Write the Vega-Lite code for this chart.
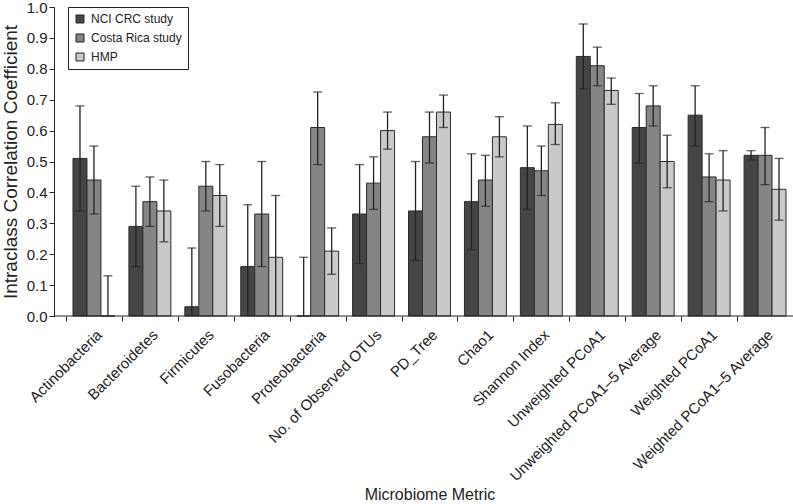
{
  "$schema": "https://vega.github.io/schema/vega-lite/v6.json",
  "width": 739,
  "height": 309,
  "autosize": "none",
  "padding": {"left": 54, "top": 7, "right": 0, "bottom": 188},
  "background": "white",
  "config": {
    "font": "Liberation Sans",
    "view": {"stroke": null},
    "axis": {"grid": false},
    "axisY": {
      "tickCount": 10, "format": ".1f", "tickSize": 5, "labelFontSize": 15, "labelColor": "#222", "labelOverlap": false,
      "domainColor": "#222", "tickColor": "#222",
      "titleFontSize": 19, "titleFontWeight": "normal", "titleColor": "#222",
      "labelPadding": 2, "titlePadding": 6
    }
  },
  "data": {
    "values": [
      {"metric": "Actinobacteria", "study": "NCI CRC study", "value": 0.51, "lo": 0.34, "hi": 0.68},
      {"metric": "Actinobacteria", "study": "Costa Rica study", "value": 0.44, "lo": 0.33, "hi": 0.55},
      {"metric": "Actinobacteria", "study": "HMP", "value": 0.0, "lo": -0.13, "hi": 0.13},
      {"metric": "Bacteroidetes", "study": "NCI CRC study", "value": 0.29, "lo": 0.16, "hi": 0.42},
      {"metric": "Bacteroidetes", "study": "Costa Rica study", "value": 0.37, "lo": 0.29, "hi": 0.45},
      {"metric": "Bacteroidetes", "study": "HMP", "value": 0.34, "lo": 0.24, "hi": 0.44},
      {"metric": "Firmicutes", "study": "NCI CRC study", "value": 0.03, "lo": -0.16, "hi": 0.22},
      {"metric": "Firmicutes", "study": "Costa Rica study", "value": 0.42, "lo": 0.34, "hi": 0.50},
      {"metric": "Firmicutes", "study": "HMP", "value": 0.39, "lo": 0.29, "hi": 0.49},
      {"metric": "Fusobacteria", "study": "NCI CRC study", "value": 0.16, "lo": -0.04, "hi": 0.36},
      {"metric": "Fusobacteria", "study": "Costa Rica study", "value": 0.33, "lo": 0.16, "hi": 0.50},
      {"metric": "Fusobacteria", "study": "HMP", "value": 0.19, "lo": -0.01, "hi": 0.39},
      {"metric": "Proteobacteria", "study": "NCI CRC study", "value": 0.0, "lo": -0.19, "hi": 0.19},
      {"metric": "Proteobacteria", "study": "Costa Rica study", "value": 0.61, "lo": 0.49, "hi": 0.725},
      {"metric": "Proteobacteria", "study": "HMP", "value": 0.21, "lo": 0.135, "hi": 0.285},
      {"metric": "No. of Observed OTUs", "study": "NCI CRC study", "value": 0.33, "lo": 0.17, "hi": 0.49},
      {"metric": "No. of Observed OTUs", "study": "Costa Rica study", "value": 0.43, "lo": 0.345, "hi": 0.515},
      {"metric": "No. of Observed OTUs", "study": "HMP", "value": 0.60, "lo": 0.54, "hi": 0.66},
      {"metric": "PD_Tree", "study": "NCI CRC study", "value": 0.34, "lo": 0.18, "hi": 0.50},
      {"metric": "PD_Tree", "study": "Costa Rica study", "value": 0.58, "lo": 0.495, "hi": 0.66},
      {"metric": "PD_Tree", "study": "HMP", "value": 0.66, "lo": 0.61, "hi": 0.715},
      {"metric": "Chao1", "study": "NCI CRC study", "value": 0.37, "lo": 0.215, "hi": 0.525},
      {"metric": "Chao1", "study": "Costa Rica study", "value": 0.44, "lo": 0.355, "hi": 0.52},
      {"metric": "Chao1", "study": "HMP", "value": 0.58, "lo": 0.515, "hi": 0.645},
      {"metric": "Shannon Index", "study": "NCI CRC study", "value": 0.48, "lo": 0.345, "hi": 0.615},
      {"metric": "Shannon Index", "study": "Costa Rica study", "value": 0.47, "lo": 0.39, "hi": 0.55},
      {"metric": "Shannon Index", "study": "HMP", "value": 0.62, "lo": 0.555, "hi": 0.69},
      {"metric": "Unweighted PCoA1", "study": "NCI CRC study", "value": 0.84, "lo": 0.735, "hi": 0.945},
      {"metric": "Unweighted PCoA1", "study": "Costa Rica study", "value": 0.81, "lo": 0.745, "hi": 0.87},
      {"metric": "Unweighted PCoA1", "study": "HMP", "value": 0.73, "lo": 0.685, "hi": 0.77},
      {"metric": "Unweighted PCoA1–5 Average", "study": "NCI CRC study", "value": 0.61, "lo": 0.495, "hi": 0.72},
      {"metric": "Unweighted PCoA1–5 Average", "study": "Costa Rica study", "value": 0.68, "lo": 0.615, "hi": 0.745},
      {"metric": "Unweighted PCoA1–5 Average", "study": "HMP", "value": 0.50, "lo": 0.415, "hi": 0.585},
      {"metric": "Weighted PCoA1", "study": "NCI CRC study", "value": 0.65, "lo": 0.55, "hi": 0.745},
      {"metric": "Weighted PCoA1", "study": "Costa Rica study", "value": 0.45, "lo": 0.37, "hi": 0.525},
      {"metric": "Weighted PCoA1", "study": "HMP", "value": 0.44, "lo": 0.34, "hi": 0.535},
      {"metric": "Weighted PCoA1–5 Average", "study": "NCI CRC study", "value": 0.52, "lo": 0.505, "hi": 0.535},
      {"metric": "Weighted PCoA1–5 Average", "study": "Costa Rica study", "value": 0.52, "lo": 0.425, "hi": 0.61},
      {"metric": "Weighted PCoA1–5 Average", "study": "HMP", "value": 0.41, "lo": 0.31, "hi": 0.51}
    ]
  },
  "layer": [
    {
      "mark": {"type": "bar", "stroke": "#2b2b2b", "strokeWidth": 1},
      "encoding": {
        "x": {
          "field": "metric", "type": "nominal", "sort": null,
          "scale": {"range": [12, 739], "paddingInner": 0, "paddingOuter": 0},
          "axis": {
            "title": "Microbiome Metric", "titleFontSize": 16, "titleFontWeight": "normal", "titleColor": "#222",
            "labelAngle": -45, "labelFontSize": 15, "labelColor": "#222", "labelLimit": 300,
            "domain": false, "tickBand": "extent", "tickSize": 5, "tickColor": "#222",
            "labelPadding": 6, "titlePadding": 2
          }
        },
        "xOffset": {
          "field": "study", "type": "nominal",
          "sort": ["NCI CRC study", "Costa Rica study", "HMP"],
          "scale": {"paddingInner": 0, "paddingOuter": 0.5}
        },
        "y": {
          "field": "value", "type": "quantitative", "title": "Intraclass Correlation Coefficient",
          "scale": {"domain": [0, 1], "nice": false}
        },
        "color": {
          "field": "study", "type": "nominal",
          "scale": {"domain": ["NCI CRC study", "Costa Rica study", "HMP"], "range": ["#454545", "#858585", "#c9c9c9"]},
          "legend": {
            "orient": "none", "legendX": 14, "legendY": 0, "title": null,
            "strokeColor": "#222", "fillColor": "white", "padding": 6,
            "symbolType": "square", "symbolSize": 64, "symbolStrokeColor": "#222", "symbolStrokeWidth": 1,
            "labelFontSize": 12, "labelColor": "#222", "rowPadding": 7, "labelOffset": 5
          }
        }
      }
    },
    {
      "mark": {"type": "rule", "color": "#222", "strokeWidth": 1.3, "clip": true},
      "encoding": {
        "x": {"field": "metric", "type": "nominal", "sort": null},
        "xOffset": {"field": "study", "type": "nominal", "sort": ["NCI CRC study", "Costa Rica study", "HMP"]},
        "y": {"field": "lo", "type": "quantitative", "title": "Intraclass Correlation Coefficient"},
        "y2": {"field": "hi"}
      }
    },
    {
      "mark": {"type": "tick", "color": "#222", "thickness": 1.3, "size": 9, "clip": true},
      "encoding": {
        "x": {"field": "metric", "type": "nominal", "sort": null},
        "xOffset": {"field": "study", "type": "nominal", "sort": ["NCI CRC study", "Costa Rica study", "HMP"]},
        "y": {"field": "hi", "type": "quantitative", "title": "Intraclass Correlation Coefficient"}
      }
    },
    {
      "mark": {"type": "tick", "color": "#222", "thickness": 1.3, "size": 9, "clip": true},
      "encoding": {
        "x": {"field": "metric", "type": "nominal", "sort": null},
        "xOffset": {"field": "study", "type": "nominal", "sort": ["NCI CRC study", "Costa Rica study", "HMP"]},
        "y": {"field": "lo", "type": "quantitative", "title": "Intraclass Correlation Coefficient"}
      }
    },
    {
      "data": {"values": [{"base": 0}]},
      "mark": {"type": "rule", "color": "#222", "strokeWidth": 1},
      "encoding": {
        "y": {"field": "base", "type": "quantitative", "title": "Intraclass Correlation Coefficient"}
      }
    }
  ]
}
